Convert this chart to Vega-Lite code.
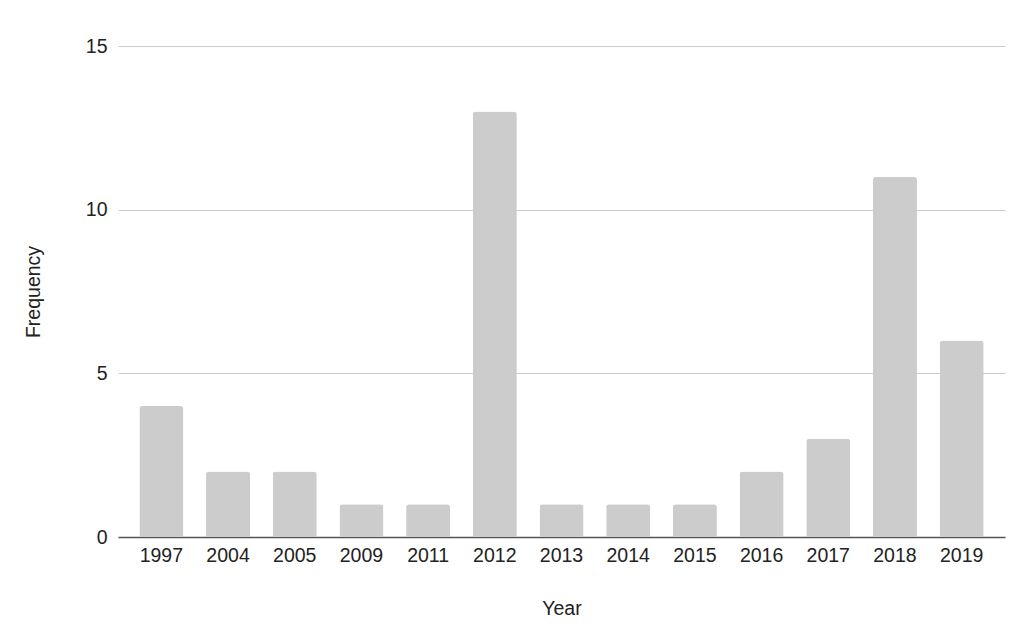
{
  "$schema": "https://vega.github.io/schema/vega-lite/v6.json",
  "autosize": {"type": "none"},
  "width": 887,
  "height": 491,
  "padding": {"left": 118, "top": 46, "right": 23, "bottom": 98},
  "background": "white",
  "data": {"values": [
    {"Year": "1997", "Frequency": 4},
    {"Year": "2004", "Frequency": 2},
    {"Year": "2005", "Frequency": 2},
    {"Year": "2009", "Frequency": 1},
    {"Year": "2011", "Frequency": 1},
    {"Year": "2012", "Frequency": 13},
    {"Year": "2013", "Frequency": 1},
    {"Year": "2014", "Frequency": 1},
    {"Year": "2015", "Frequency": 1},
    {"Year": "2016", "Frequency": 2},
    {"Year": "2017", "Frequency": 3},
    {"Year": "2018", "Frequency": 11},
    {"Year": "2019", "Frequency": 6}
  ]},
  "config": {
    "view": {"stroke": null},
    "font": "Liberation Sans"
  },
  "mark": {"type": "bar", "color": "#cccccc", "cornerRadiusTopLeft": 3, "cornerRadiusTopRight": 3},
  "encoding": {
    "x": {
      "field": "Year", "type": "ordinal", "sort": null,
      "scale": {"paddingInner": 0.34, "paddingOuter": 0.32},
      "axis": {
        "title": "Year", "titleFont": "Liberation Sans", "titleFontSize": 19.5, "titleFontWeight": "normal", "titleColor": "#222222", "titlePadding": 35,
        "labelFont": "Liberation Sans", "labelFontSize": 19.5, "labelColor": "#222222", "labelAngle": 0, "labelPadding": 9,
        "ticks": false, "domainColor": "#555555", "domainWidth": 1.5
      }
    },
    "y": {
      "field": "Frequency", "type": "quantitative",
      "scale": {"domain": [0, 15]},
      "axis": {
        "title": "Frequency", "titleFont": "Liberation Sans", "titleFontSize": 19.5, "titleFontWeight": "normal", "titleColor": "#222222", "titlePadding": 42,
        "labelFont": "Liberation Sans", "labelFontSize": 19.5, "labelColor": "#222222", "labelPadding": 11,
        "values": [0, 5, 10, 15], "ticks": false, "domain": false,
        "gridColor": "#cccccc", "gridWidth": 1
      }
    }
  }
}
